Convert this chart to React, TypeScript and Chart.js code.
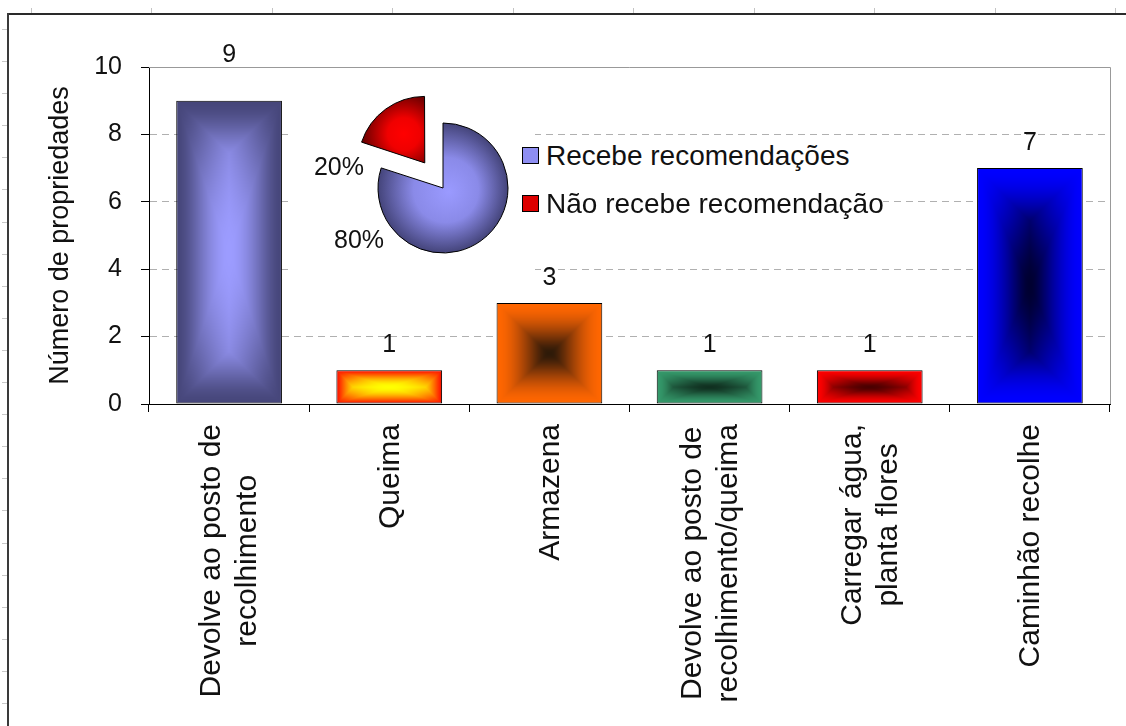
import React, { useEffect, useRef } from 'react';
import { Chart, registerables } from 'chart.js';

Chart.register(...registerables);

const FONT = '"Liberation Sans", Arial, Helvetica, sans-serif';

// ---------- data ----------
const categories: string[][] = [
  ['Devolve ao posto de', 'recolhimento'],
  ['Queima'],
  ['Armazena'],
  ['Devolve ao posto de', 'recolhimento/queima'],
  ['Carregar água,', 'planta flores'],
  ['Caminhão recolhe'],
];
const counts = [9, 1, 3, 1, 1, 7];
const yTicks = [0, 2, 4, 6, 8, 10];
const yTitle = 'Número de propriedades';

const pieLabels = ['Recebe recomendações', 'Não recebe recomendação'];
const pieValues = [80, 20];

// ---------- styles ----------
const barEdgeColors = ['#46467a', '#ff1000', '#ff6600', '#359a6b', '#ff0000', '#0000ff'];
const barCenterColors = ['#9c9cff', '#ffff00', '#2e1a08', '#103020', '#4a0000', '#000030'];
const pieSwatchColors = ['#8e8ef2', '#dd0000'];
const BAR_PCT = 0.66;
const TEXT = '#111';
const GAMMA = 1.7;

function hexToRgb(h: string): number[] {
  const n = parseInt(h.slice(1), 16);
  return [(n >> 16) & 255, (n >> 8) & 255, n & 255];
}
const toLin = (v: number) => Math.pow(v / 255, GAMMA);
const toSrgb = (l: number) => Math.round(Math.pow(Math.max(0, Math.min(1, l)), 1 / GAMMA) * 255);

const patternCache = new Map<string, CanvasPattern | string>();

// "from centre" rectangular gradient (soft blend of edge-distance and scaled-rectangle shading)
function rectGradientPattern(chart: any, L: number, T: number, R: number, B: number, edge: string, center: string) {
  const key = [chart.width, chart.height, L.toFixed(1), T.toFixed(1), R.toFixed(1), B.toFixed(1), edge, center].join(',');
  const cached = patternCache.get(key);
  if (cached) return cached;
  const x0 = Math.floor(L) - 1;
  const y0 = Math.floor(T) - 1;
  const x1 = Math.ceil(R) + 1;
  const y1 = Math.ceil(B) + 1;
  const w = Math.max(1, x1 - x0);
  const h = Math.max(1, y1 - y0);
  const tile = document.createElement('canvas');
  tile.width = w;
  tile.height = h;
  const tctx = tile.getContext('2d')!;
  const img = tctx.createImageData(w, h);
  const e = hexToRgb(edge).map(toLin);
  const c = hexToRgb(center).map(toLin);
  const half = Math.max(1, Math.min(R - L, B - T) / 2);
  const cx = (L + R) / 2;
  const cy = (T + B) / 2;
  const hw = Math.max(1, (R - L) / 2);
  const hh = Math.max(1, (B - T) / 2);
  for (let py = 0; py < h; py++) {
    for (let px = 0; px < w; px++) {
      const X = x0 + px + 0.5;
      const Y = y0 + py + 0.5;
      const d = Math.min(X - L, R - X, Y - T, B - Y);
      const tMin = Math.max(0, Math.min(1, d / half));
      const m = Math.max(Math.abs(X - cx) / hw, Math.abs(Y - cy) / hh);
      const tSim = Math.max(0, Math.min(1, 1 - m));
      let t = 0.5 * (tMin + tSim);
      t = t * t * (3 - 2 * t);
      const k = (py * w + px) * 4;
      img.data[k] = toSrgb(e[0] + (c[0] - e[0]) * t);
      img.data[k + 1] = toSrgb(e[1] + (c[1] - e[1]) * t);
      img.data[k + 2] = toSrgb(e[2] + (c[2] - e[2]) * t);
      img.data[k + 3] = 255;
    }
  }
  tctx.putImageData(img, 0, 0);
  const full = document.createElement('canvas');
  full.width = chart.width;
  full.height = chart.height;
  full.getContext('2d')!.drawImage(tile, x0, y0);
  const pat = chart.ctx.createPattern(full, 'no-repeat') || edge;
  patternCache.set(key, pat);
  return pat;
}

// plot frame (top / right, solid gray)
const plotFrame = {
  id: 'plotFrame',
  beforeDatasetsDraw(chart: any) {
    const { ctx, chartArea: a } = chart;
    ctx.save();
    ctx.strokeStyle = '#999999';
    ctx.lineWidth = 1;
    ctx.setLineDash([]);
    ctx.beginPath();
    ctx.moveTo(a.left, a.top + 0.5);
    ctx.lineTo(a.right + 0.5, a.top + 0.5);
    ctx.lineTo(a.right + 0.5, a.bottom);
    ctx.stroke();
    ctx.restore();
  },
};

// value labels above bars
const barValueLabels = {
  id: 'barValueLabels',
  afterDatasetsDraw(chart: any) {
    const meta = chart.getDatasetMeta(0);
    const data = chart.data.datasets[0].data;
    const { ctx, chartArea } = chart;
    ctx.save();
    ctx.font = `25px ${FONT}`;
    ctx.fillStyle = TEXT;
    ctx.textAlign = 'center';
    ctx.textBaseline = 'alphabetic';
    meta.data.forEach((bar: any, i: number) => {
      let y = bar.y - 18;
      if (y - 20 < chartArea.top) y = chartArea.top - 5;
      ctx.fillText(String(data[i]), bar.x, y);
    });
    ctx.restore();
  },
};

// rotated, multi-line category labels (lines centred on each other)
const xCategoryLabels = {
  id: 'xCategoryLabels',
  afterDraw(chart: any) {
    const xs = chart.scales.x;
    const { ctx } = chart;
    const labels = chart.data.labels as (string | string[])[];
    ctx.save();
    ctx.font = `30px ${FONT}`;
    ctx.fillStyle = TEXT;
    ctx.textAlign = 'center';
    ctx.textBaseline = 'middle';
    labels.forEach((lab, i) => {
      const lines = Array.isArray(lab) ? lab : [lab];
      const maxW = Math.max(...lines.map((l) => ctx.measureText(l).width));
      const x = xs.getPixelForValue(i);
      const y0 = xs.top + 20;
      ctx.save();
      ctx.translate(x, y0);
      ctx.rotate(-Math.PI / 2);
      lines.forEach((ln, j) => {
        ctx.fillText(ln, -maxW / 2, (j - (lines.length - 1) / 2) * 36 + 1);
      });
      ctx.restore();
    });
    ctx.restore();
  },
};

// percentage labels outside the pie
const pieOutsideLabels = {
  id: 'pieOutsideLabels',
  afterDatasetsDraw(chart: any, _args: any, opts: any) {
    const meta = chart.getDatasetMeta(0);
    const data = chart.data.datasets[0].data as number[];
    const total = data.reduce((s, v) => s + v, 0);
    const { ctx } = chart;
    ctx.save();
    ctx.font = `25px ${FONT}`;
    ctx.fillStyle = TEXT;
    ctx.textAlign = 'center';
    ctx.textBaseline = 'middle';
    meta.data.forEach((arc: any, i: number) => {
      const off = (arc.options.offset || 0) / 4;
      const mid = (arc.startAngle + arc.endAngle) / 2;
      const ox = arc.x + Math.cos(mid) * off;
      const oy = arc.y + Math.sin(mid) * off;
      const a = (opts.angles[i] * Math.PI) / 180;
      const d = arc.outerRadius + opts.gaps[i];
      ctx.fillText(Math.round((data[i] / total) * 100) + '%', ox + Math.cos(a) * d, oy + Math.sin(a) * d + 1);
    });
    ctx.restore();
  },
};

export default function App() {
  const barRef = useRef<HTMLCanvasElement>(null);
  const pieRef = useRef<HTMLCanvasElement>(null);

  useEffect(() => {
    Chart.defaults.font.family = FONT;
    Chart.defaults.color = TEXT;

    const bar = new Chart(barRef.current!, {
      type: 'bar',
      data: {
        labels: categories,
        datasets: [
          {
            data: counts,
            backgroundColor: (c: any) => {
              const i = c.dataIndex;
              const chart = c.chart;
              const xs = chart.scales.x;
              const ys = chart.scales.y;
              if (i === undefined || !chart.chartArea || !xs || !ys) return barEdgeColors[i ?? 0];
              const v = chart.data.datasets[0].data[i] as number;
              const n = chart.data.labels.length;
              const bw = (xs.width / n) * BAR_PCT;
              const xc = xs.getPixelForValue(i);
              return rectGradientPattern(
                chart,
                xc - bw / 2,
                ys.getPixelForValue(v),
                xc + bw / 2,
                ys.getPixelForValue(0),
                barEdgeColors[i],
                barCenterColors[i]
              );
            },
            borderColor: '#000',
            borderWidth: 1,
            borderSkipped: false,
            barPercentage: BAR_PCT,
            categoryPercentage: 1,
          } as any,
        ],
      },
      options: {
        responsive: false,
        maintainAspectRatio: false,
        animation: false,
        events: [],
        layout: { padding: { top: 67, right: 16, left: 0, bottom: 0 } },
        plugins: { legend: { display: false }, tooltip: { enabled: false } },
        scales: {
          x: {
            type: 'category',
            offset: true,
            ticks: { display: false },
            grid: {
              offset: true,
              drawOnChartArea: false,
              drawTicks: true,
              tickLength: 8,
              tickColor: '#000',
              color: '#000',
            },
            border: { display: true, color: '#000', width: 1 },
            afterFit: (s: any) => {
              s.height = 322;
            },
          },
          y: {
            min: 0,
            max: 10,
            afterBuildTicks: (axis: any) => {
              axis.ticks = yTicks.map((v) => ({ value: v }));
            },
            ticks: { font: { size: 25 }, color: TEXT, padding: 19 },
            title: {
              display: true,
              text: yTitle,
              font: { size: 27 },
              color: TEXT,
              padding: { top: 44, bottom: 0 },
            },
            grid: { color: '#b0b0b0', lineWidth: 1, tickColor: '#000', tickLength: 8, drawTicks: true },
            border: { display: true, color: '#000', width: 1, dash: [7, 5] },
            afterFit: (s: any) => {
              s.width = 149;
            },
          },
        },
      } as any,
      plugins: [plotFrame, barValueLabels, xCategoryLabels],
    });

    const pie = new Chart(pieRef.current!, {
      type: 'pie',
      data: {
        labels: pieLabels,
        datasets: [
          {
            data: pieValues,
            radius: 65,
            offset: [0, 124],
            borderColor: '#000',
            borderWidth: 1,
            backgroundColor: (c: any) => {
              const i = c.dataIndex;
              const chart = c.chart;
              const ca = chart.chartArea;
              if (i === undefined || !ca) return pieSwatchColors[i ?? 0];
              const data = chart.data.datasets[0].data as number[];
              const total = data.reduce((s: number, v: number) => s + v, 0);
              const before = data.slice(0, i).reduce((s: number, v: number) => s + v, 0);
              const frac = data[i] / total;
              const start = -Math.PI / 2 + (before / total) * Math.PI * 2;
              const mid = start + frac * Math.PI;
              const cx = (ca.left + ca.right) / 2;
              const cy = (ca.top + ca.bottom) / 2;
              const r = 65;
              const ctx = chart.ctx as CanvasRenderingContext2D;
              if (frac >= 0.5) {
                const g = ctx.createRadialGradient(cx + 6, cy + 4, 0, cx, cy, r);
                g.addColorStop(0, '#9a9aff');
                g.addColorStop(0.5, '#8a8ae8');
                g.addColorStop(1, '#44447a');
                return g;
              }
              const gx = cx + Math.cos(mid) * r * 0.55;
              const gy = cy + Math.sin(mid) * r * 0.55;
              const g = ctx.createRadialGradient(gx, gy, 0, gx, gy, r * 0.62);
              g.addColorStop(0, '#ff0000');
              g.addColorStop(0.4, '#f00000');
              g.addColorStop(1, '#6e0000');
              return g;
            },
          } as any,
        ],
      },
      options: {
        responsive: false,
        maintainAspectRatio: false,
        animation: false,
        events: [],
        layout: { padding: { left: 63, top: 12, right: 0, bottom: 0 } },
        plugins: {
          legend: { display: false },
          tooltip: { enabled: false },
          pieOutsideLabels: { angles: [148, 177], gaps: [34, 21] },
        } as any,
      } as any,
      plugins: [pieOutsideLabels],
    });

    return () => {
      bar.destroy();
      pie.destroy();
    };
  }, []);

  return (
    <div
      style={{
        position: 'absolute',
        left: 0,
        top: 0,
        width: 1126,
        height: 726,
        overflow: 'hidden',
        background: '#fff',
      }}
    >
      {/* sheet frame and ruler marks */}
      <div
        style={{
          position: 'absolute',
          left: 0,
          top: 8,
          width: 1126,
          height: 5,
          background:
            'repeating-linear-gradient(90deg, transparent 0px, transparent 31px, #c4c4c4 31px, #c4c4c4 32px, transparent 32px, transparent 120.5px)',
        }}
      />
      <div
        style={{
          position: 'absolute',
          left: 2,
          top: 13,
          width: 5,
          height: 713,
          background:
            'repeating-linear-gradient(180deg, transparent 0px, transparent 16px, #c8c8c8 16px, #c8c8c8 17px, transparent 17px, transparent 32.1px)',
        }}
      />
      <div style={{ position: 'absolute', left: 7, top: 13, width: 1119, height: 2, background: '#2a2a2a' }} />
      <div style={{ position: 'absolute', left: 7, top: 13, width: 2, height: 713, background: '#3a3a3a' }} />

      <canvas
        ref={barRef}
        width={1126}
        height={726}
        style={{ position: 'absolute', left: 0, top: 0, width: 1126, height: 726 }}
      />
      <canvas
        ref={pieRef}
        width={247}
        height={196}
        style={{ position: 'absolute', left: 288, top: 84, width: 247, height: 196, background: '#fff' }}
      />
      <div
        style={{
          position: 'absolute',
          left: 515,
          top: 138,
          width: 368,
          height: 84,
          background: '#fff',
          fontFamily: FONT,
          fontSize: 28,
          color: TEXT,
        }}
      >
        {pieLabels.map((lab, i) => (
          <div key={lab}>
            <span
              style={{
                position: 'absolute',
                left: 7,
                top: 9 + i * 48,
                width: 15,
                height: 15,
                border: '1px solid #000',
                background: pieSwatchColors[i],
              }}
            />
            <span
              style={{
                position: 'absolute',
                left: 31,
                top: 3 + i * 48,
                lineHeight: '30px',
                whiteSpace: 'nowrap',
              }}
            >
              {lab}
            </span>
          </div>
        ))}
      </div>
    </div>
  );
}
